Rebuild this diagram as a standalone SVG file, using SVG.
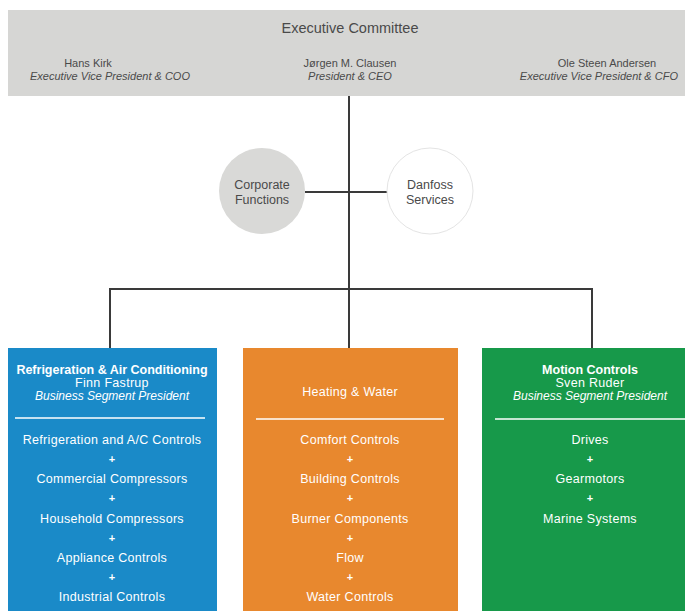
<svg xmlns="http://www.w3.org/2000/svg" width="685" height="611" viewBox="0 0 685 611">
<style>
text{font-family:"Liberation Sans","DejaVu Sans",sans-serif;text-anchor:middle}
.g{fill:#4a4a4a;font-size:11px}
.gi{fill:#4a4a4a;font-size:11px;font-style:italic}
.gc{fill:#4a4a4a;font-size:12.5px}
.gt{fill:#4a4a4a;font-size:14.5px}
.w{fill:#ffffff;font-size:12.5px;letter-spacing:0.3px}
.wb{fill:#ffffff;font-size:12.5px;font-weight:bold}
.wi{fill:#ffffff;font-size:12px;font-style:italic}
.plus{fill:#ffffff;font-size:11px;font-weight:bold}
.con{stroke:#3a3a3a;stroke-width:2;fill:none}
.sep{stroke:#ffffff;stroke-width:1.5}
</style>
<rect width="685" height="611" fill="#ffffff"/>
<g id="executive-committee">
<rect x="8" y="10" width="677" height="86" fill="#d6d6d4"/>
<text class="gt" x="350" y="33">Executive Committee</text>
<text class="g" x="88" y="67">Hans Kirk</text>
<text class="gi" x="110" y="80">Executive Vice President &amp; COO</text>
<text class="g" x="350" y="67">Jørgen M. Clausen</text>
<text class="gi" x="350" y="80">President &amp; CEO</text>
<text class="g" x="607" y="67">Ole Steen Andersen</text>
<text class="gi" x="678" y="80" style="text-anchor:end">Executive Vice President &amp; CFO</text>
</g>
<g id="connectors">
<line class="con" x1="349" y1="96" x2="349" y2="348"/>
<line class="con" x1="305" y1="192" x2="388" y2="192"/>
<polyline class="con" points="110,348 110,289 592,289 592,348"/>
</g>
<g id="corporate-functions">
<circle cx="262" cy="191" r="43" fill="#d9d9d7"/>
<text class="gc" x="262" y="189">Corporate</text>
<text class="gc" x="262" y="204">Functions</text>
</g>
<g id="danfoss-services">
<circle cx="430" cy="191" r="43" fill="#ffffff" stroke="#e4e4e4" stroke-width="1"/>
<text class="gc" x="430" y="189">Danfoss</text>
<text class="gc" x="430" y="204">Services</text>
</g>
<g id="refrigeration">
<rect x="8" y="348" width="209" height="263" fill="#1a8ac8"/>
<text class="wb" x="112" y="374">Refrigeration &amp; Air Conditioning</text>
<text class="w" x="112" y="387">Finn Fastrup</text>
<text class="wi" x="112" y="400">Business Segment President</text>
<line class="sep" x1="15" y1="418" x2="205" y2="418"/>
<text class="w" x="112" y="444">Refrigeration and A/C Controls</text>
<text class="plus" x="112" y="463">+</text>
<text class="w" x="112" y="483">Commercial Compressors</text>
<text class="plus" x="112" y="502">+</text>
<text class="w" x="112" y="523">Household Compressors</text>
<text class="plus" x="112" y="542">+</text>
<text class="w" x="112" y="562">Appliance Controls</text>
<text class="plus" x="112" y="581">+</text>
<text class="w" x="112" y="601">Industrial Controls</text>
</g>
<g id="heating-water">
<rect x="243" y="348" width="215" height="263" fill="#e8882e"/>
<text class="w" x="350" y="396">Heating &amp; Water</text>
<line class="sep" x1="256" y1="419" x2="444" y2="419" stroke="#f3b078"/>
<text class="w" x="350" y="444">Comfort Controls</text>
<text class="plus" x="350" y="463">+</text>
<text class="w" x="350" y="483">Building Controls</text>
<text class="plus" x="350" y="502">+</text>
<text class="w" x="350" y="523">Burner Components</text>
<text class="plus" x="350" y="542">+</text>
<text class="w" x="350" y="562">Flow</text>
<text class="plus" x="350" y="581">+</text>
<text class="w" x="350" y="601">Water Controls</text>
</g>
<g id="motion-controls">
<rect x="482" y="348" width="203" height="263" fill="#17994a"/>
<text class="wb" x="590" y="374">Motion Controls</text>
<text class="w" x="590" y="387">Sven Ruder</text>
<text class="wi" x="590" y="400">Business Segment President</text>
<line class="sep" x1="495" y1="419" x2="685" y2="419"/>
<text class="w" x="590" y="444">Drives</text>
<text class="plus" x="590" y="463">+</text>
<text class="w" x="590" y="483">Gearmotors</text>
<text class="plus" x="590" y="502">+</text>
<text class="w" x="590" y="523">Marine Systems</text>
</g>
</svg>
